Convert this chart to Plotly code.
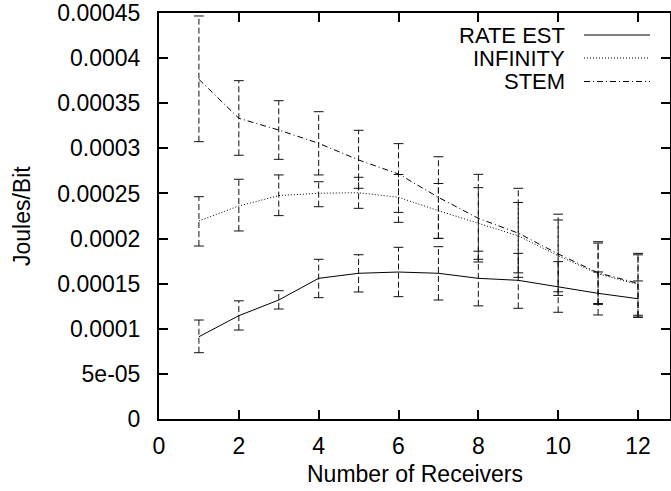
import plotly.graph_objects as go

# Number of receivers on the x axis
receivers = [1, 2, 3, 4, 5, 6, 7, 8, 9, 10, 11, 12]

# Energy per bit (J/bit): mean, upper and lower error bounds per scheme
rate_est = [9.12e-5, 1.145e-4, 1.319e-4, 1.559e-4, 1.615e-4, 1.629e-4,
            1.615e-4, 1.559e-4, 1.537e-4, 1.464e-4, 1.393e-4, 1.333e-4]
rate_est_hi = [1.097e-4, 1.31e-4, 1.422e-4, 1.77e-4, 1.821e-4, 1.903e-4,
               1.91e-4, 1.86e-4, 1.836e-4, 1.744e-4, 1.63e-4, 1.53e-4]
rate_est_lo = [7.35e-5, 9.86e-5, 1.219e-4, 1.345e-4, 1.408e-4, 1.356e-4,
               1.319e-4, 1.254e-4, 1.227e-4, 1.183e-4, 1.153e-4, 1.127e-4]

infinity = [2.195e-4, 2.361e-4, 2.476e-4, 2.502e-4, 2.508e-4, 2.457e-4,
            2.309e-4, 2.169e-4, 2.03e-4, 1.81e-4, 1.61e-4, 1.49e-4]
infinity_hi = [2.464e-4, 2.657e-4, 2.705e-4, 2.63e-4, 2.679e-4, 2.71e-4,
               2.61e-4, 2.564e-4, 2.40e-4, 2.206e-4, 1.95e-4, 1.82e-4]
infinity_lo = [1.917e-4, 2.084e-4, 2.254e-4, 2.353e-4, 2.335e-4, 2.18e-4,
               2.0e-4, 1.77e-4, 1.62e-4, 1.41e-4, 1.27e-4, 1.15e-4]

stem = [3.765e-4, 3.333e-4, 3.203e-4, 3.056e-4, 2.871e-4, 2.716e-4,
        2.457e-4, 2.224e-4, 2.06e-4, 1.83e-4, 1.62e-4, 1.504e-4]
stem_hi = [4.467e-4, 3.75e-4, 3.528e-4, 3.406e-4, 3.20e-4, 3.052e-4,
           2.907e-4, 2.712e-4, 2.557e-4, 2.27e-4, 1.965e-4, 1.836e-4]
stem_lo = [3.074e-4, 2.923e-4, 2.878e-4, 2.705e-4, 2.557e-4, 2.29e-4,
           2.003e-4, 1.74e-4, 1.57e-4, 1.37e-4, 1.28e-4, 1.13e-4]

series_names = ["RATE EST", "INFINITY", "STEM"]

# Axis ticks
x_tickvals = [0, 2, 4, 6, 8, 10, 12]
x_ticktext = ["0", "2", "4", "6", "8", "10", "12"]
y_tickvals = [0, 5e-5, 1e-4, 1.5e-4, 2e-4, 2.5e-4, 3e-4, 3.5e-4, 4e-4, 4.5e-4]
y_ticktext = ["0", "5e-05", "0.0001", "0.00015", "0.0002", "0.00025",
              "0.0003", "0.00035", "0.0004", "0.00045"]

FONT = "Liberation Sans, Arial, sans-serif"
FS = 23
KEY_FS = 22
W, H = 671, 491
L, R, T, B = 159, 1, 13, 72
PW, PH = W - L - R, H - T - B

series = [
    (rate_est, rate_est_hi, rate_est_lo, "solid"),
    (infinity, infinity_hi, infinity_lo, "1px,2px"),
    (stem, stem_hi, stem_lo, "6px,3px,1px,3px"),
]

fig = go.Figure()

# Dashed error bars with small caps
for vals, hi, lo, _ in series:
    xs, ys = [], []
    for x, h, l in zip(receivers, hi, lo):
        xs += [x, x, None]
        ys += [l, h, None]
    fig.add_trace(go.Scatter(
        x=xs, y=ys, mode="lines", showlegend=False, hoverinfo="skip",
        line=dict(color="#111", width=1, dash="6px,3px")))
    fig.add_trace(go.Scatter(
        x=receivers + receivers, y=hi + lo, mode="markers",
        showlegend=False, hoverinfo="skip",
        marker=dict(symbol="line-ew", size=7,
                    line=dict(color="#111", width=1))))

# Mean curves
for (vals, _, _, dash), name in zip(series, series_names):
    fig.add_trace(go.Scatter(
        x=receivers, y=vals, mode="lines", name=name, showlegend=False,
        line=dict(color="black", width=1, dash=dash)))

# Key in the upper right: label then line sample
key_rows = [35, 58, 81.5]
for (vals, _, _, dash), name, py in zip(series, series_names, key_rows):
    yp = (H - B - py) / PH
    fig.add_annotation(
        x=(567 - L) / PW, y=yp, xref="paper", yref="paper",
        xanchor="right", yanchor="middle", text=name, showarrow=False,
        font=dict(family=FONT, size=KEY_FS, color="black"))
    fig.add_shape(
        type="line", xref="paper", yref="paper",
        x0=(584 - L) / PW, x1=(650 - L) / PW, y0=yp, y1=yp,
        line=dict(color="black", width=1, dash=dash))

# Axis titles
fig.add_annotation(
    x=0.5, y=(H - B - 474) / PH, xref="paper", yref="paper",
    xanchor="center", yanchor="middle", text="Number of Receivers",
    showarrow=False, font=dict(family=FONT, size=FS, color="black"))
fig.add_annotation(
    x=(22 - L) / PW, y=0.5, xref="paper", yref="paper",
    xanchor="center", yanchor="middle", text="Joules/Bit", textangle=-90,
    showarrow=False, font=dict(family=FONT, size=FS, color="black"))

axis_common = dict(
    showgrid=False, zeroline=False, showline=True, linecolor="black",
    linewidth=2, mirror="ticks", ticks="inside", ticklen=9, tickwidth=1.5,
    tickcolor="black", tickfont=dict(family=FONT, size=FS, color="black"))

fig.update_xaxes(range=[0, PW / (479 / 12)], tickvals=x_tickvals,
                 ticktext=x_ticktext, ticklabelstandoff=5, **axis_common)
fig.update_yaxes(range=[0, 4.5e-4], tickvals=y_tickvals,
                 ticktext=y_ticktext, ticklabelstandoff=12, **axis_common)

fig.update_layout(
    width=W, height=H, margin=dict(l=L, r=R, t=T, b=B, autoexpand=False),
    paper_bgcolor="white", plot_bgcolor="white", showlegend=False,
    font=dict(family=FONT, size=FS, color="black"))

fig.write_html("out.html")
